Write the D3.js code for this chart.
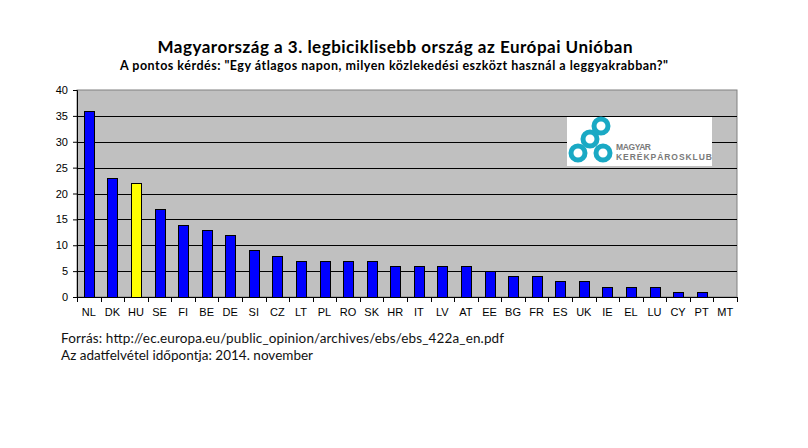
<!DOCTYPE html>
<html><head><meta charset="utf-8">
<script src="https://cdn.jsdelivr.net/npm/d3@7"></script>
<style>body{margin:0;background:#fff}svg{display:block}</style>
</head><body><svg id="c" width="808" height="448"></svg>
<script>
const categories = ["NL","DK","HU","SE","FI","BE","DE","SI","CZ","LT","PL","RO","SK","HR","IT","LV","AT","EE","BG","FR","ES","UK","IE","EL","LU","CY","PT","MT"];
const values = [36,23,22,17,14,13,12,9,8,7,7,7,7,6,6,6,6,5,4,4,3,3,2,2,2,1,1,0];
const highlight = ["HU"];
const yTicks = [0,5,10,15,20,25,30,35,40];
const title = "Magyarország a 3. legbiciklisebb ország az Európai Unióban";
const subtitle = "A pontos kérdés: \"Egy átlagos napon, milyen közlekedési eszközt használ a leggyakrabban?\"";
const notes = ["Forrás: http://ec.europa.eu/public_opinion/archives/ebs/ebs_422a_en.pdf","Az adatfelvétel időpontja: 2014. november"];
const noteWidths = [443, 252];

const svg = d3.select("#c");
const m = {l:77, t:90, r:737, b:297};
const x = d3.scaleBand().domain(categories).range([m.l, m.r]).paddingInner(0.58).paddingOuter(0.29);
const y = d3.scaleLinear().domain([0,40]).range([m.b, m.t]);

svg.append("rect").attr("x",m.l).attr("y",m.t).attr("width",m.r-m.l).attr("height",m.b-m.t)
  .attr("fill","#c0c0c0").attr("stroke","#808080").attr("stroke-width",1);

svg.append("g").selectAll("line").data(yTicks.filter(d=>d>0&&d<40)).join("line")
  .attr("x1",m.l).attr("x2",m.r).attr("y1",d=>Math.round(y(d))+0.5).attr("y2",d=>Math.round(y(d))+0.5)
  .attr("stroke","#000").attr("stroke-width",1);

// logo
const lg = svg.append("g");
lg.append("rect").attr("x",567).attr("y",117).attr("width",145).attr("height",49).attr("fill","#fff");
const rings = [[578,153],[603,153],[590,139],[601,126]];
lg.selectAll("circle").data(rings).join("circle").attr("cx",d=>d[0]).attr("cy",d=>d[1]).attr("r",7)
  .attr("fill","none").attr("stroke","#1aa9c4").attr("stroke-width",5);
lg.append("text").attr("x",616).attr("y",149.5).text("MAGYAR").attr("font-family","Liberation Sans, Arial").attr("font-size",8.5).attr("font-weight","bold").attr("fill","#7a7a7a").attr("textLength",35);
lg.append("text").attr("x",616).attr("y",159.5).text("KERÉKPÁROSKLUB").attr("font-family","Liberation Sans, Arial").attr("font-size",8.5).attr("font-weight","bold").attr("fill","#7a7a7a").attr("textLength",96);

svg.append("g").selectAll("rect").data(categories).join("rect")
  .attr("x",d=>Math.round(x(d))+0.5).attr("width",Math.round(x.bandwidth()))
  .attr("y",(d,i)=>Math.round(y(values[i]))+0.5).attr("height",(d,i)=>Math.round(y(0))-Math.round(y(values[i])))
  .attr("fill",d=>highlight.includes(d)?"#ffff00":"#0000ff").attr("stroke","#000").attr("stroke-width",1);

const ya = svg.append("g").attr("transform",`translate(${m.l},0)`)
  .call(d3.axisLeft(y).tickValues(yTicks).tickSize(4).tickPadding(5));
ya.select(".domain").attr("stroke","#000");
ya.selectAll("text").attr("font-family","Liberation Sans, Arial").attr("font-size",11).attr("fill","#000");

const xa = svg.append("g").attr("transform",`translate(0,${m.b})`);
xa.append("line").attr("x1",m.l).attr("x2",m.r).attr("y1",0.5).attr("y2",0.5).attr("stroke","#000");
xa.selectAll("line.t").data(d3.range(categories.length+1)).join("line").attr("class","t")
  .attr("x1",i=>Math.round(m.l+i*(m.r-m.l)/categories.length)+0.5).attr("x2",i=>Math.round(m.l+i*(m.r-m.l)/categories.length)+0.5)
  .attr("y1",0).attr("y2",5).attr("stroke","#000");
xa.selectAll("text").data(categories).join("text")
  .attr("x",d=>x(d)+x.bandwidth()/2).attr("y",19).attr("text-anchor","middle")
  .attr("font-family","Liberation Sans, Arial").attr("font-size",11).text(d=>d);

svg.append("text").attr("x",395).attr("y",53).attr("text-anchor","middle").text(title)
  .attr("font-family","Lato, Open Sans, sans-serif").attr("font-weight","bold").attr("font-size",17).attr("textLength",475);
svg.append("text").attr("x",394).attr("y",70).attr("text-anchor","middle").text(subtitle)
  .attr("font-family","Lato, Open Sans, sans-serif").attr("font-weight","bold").attr("font-size",12.5).attr("textLength",548);
svg.selectAll("text.note").data(notes).join("text").attr("class","note")
  .attr("x",61).attr("y",(d,i)=>343+i*17).text(d=>d).attr("textLength",(d,i)=>noteWidths[i])
  .attr("font-family","Lato, Open Sans, sans-serif").attr("font-size",13.5).attr("fill","#111");
</script></body></html>
